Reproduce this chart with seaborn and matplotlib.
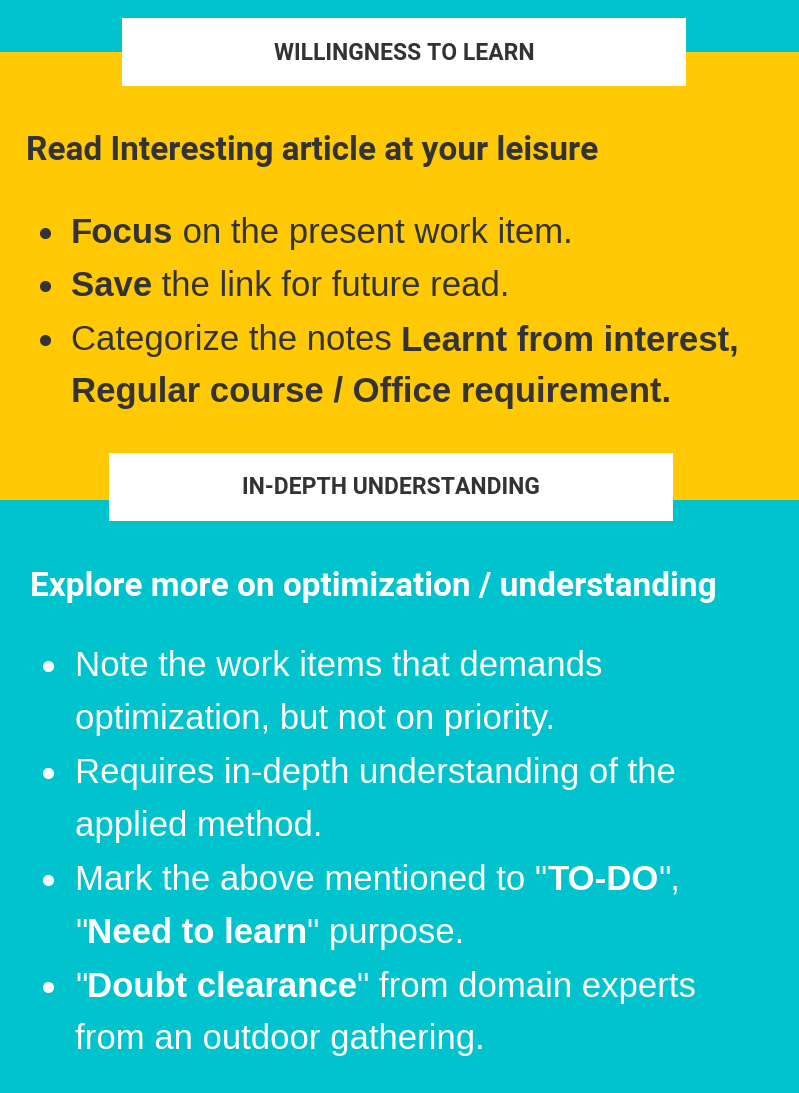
import matplotlib
matplotlib.use("Agg")
import matplotlib.pyplot as plt
import seaborn as sns

sns.set_theme(style="white")
plt.rcParams['font.family'] = ['Liberation Sans', 'DejaVu Sans']

TEAL = "#00C3CD"
YELLOW = "#FFCA05"
DARK = "#333333"

# section texts
box_titles = ["WILLINGNESS TO LEARN", "IN-DEPTH UNDERSTANDING"]
headings = ["Read Interesting article at your leisure",
            "Explore more on optimization / understanding"]
# each line: (bullet?, [(text, bold), ...])
top_lines = [
    (True, [("Focus", True), (" on the present work item.", False)]),
    (True, [("Save", True), (" the link for future read.", False)]),
    (True, [("Categorize the notes ", False), ("Learnt from interest,", True)]),
    (False, [("Regular course / Office requirement.", True)]),
]
bottom_lines = [
    (True, [("Note the work items that demands", False)]),
    (False, [("optimization, but not on priority.", False)]),
    (True, [("Requires in-depth understanding of the", False)]),
    (False, [("applied method.", False)]),
    (True, [("Mark the above mentioned to \"", False), ("TO-DO", True), ("\",", False)]),
    (False, [("\"", False), ("Need to learn", True), ("\" purpose.", False)]),
    (True, [("\"", False), ("Doubt clearance", True), ("\" from domain experts", False)]),
    (False, [("from an outdoor gathering.", False)]),
]

fig = plt.figure(figsize=(7.99, 10.93), dpi=100)
ax = fig.add_axes([0, 0, 1, 1])
ax.set_xlim(0, 799)
ax.set_ylim(1093, 0)
ax.axis("off")
renderer = fig.canvas.get_renderer()

# backgrounds
ax.add_patch(plt.Rectangle((0, 0), 799, 52, color=TEAL, lw=0))
ax.add_patch(plt.Rectangle((0, 52), 799, 448, color=YELLOW, lw=0))
ax.add_patch(plt.Rectangle((0, 500), 799, 593, color=TEAL, lw=0))
ax.add_patch(plt.Rectangle((122, 18), 564, 68, color="white", lw=0))
ax.add_patch(plt.Rectangle((109, 453), 564, 68, color="white", lw=0))

ax.text(404, 53, box_titles[0], ha="center", va="center", fontsize=16.5,
        fontweight="bold", family="Roboto", color=DARK)
ax.text(391, 488, box_titles[1], ha="center", va="center", fontsize=16.5,
        fontweight="bold", family="Roboto", color=DARK)

ax.text(26, 160, headings[0], fontsize=24, fontweight="bold", family="Roboto",
        color=DARK, va="baseline")
ax.text(30, 596, headings[1], fontsize=24, fontweight="bold", family="Roboto",
        color="white", va="baseline")


def draw_runs(x, y, runs, color):
    for txt, bold in runs:
        t = ax.text(x, y, txt.replace(" ", "\u00a0"), fontsize=25, color=color,
                    fontweight="bold" if bold else "normal", va="baseline")
        x += t.get_window_extent(renderer).width


def draw_list(lines, bx, tx, ys, color):
    for (bullet, runs), y in zip(lines, ys):
        if bullet:
            ax.plot(bx, y - 10, "o", ms=7, color=color)
        draw_runs(tx, y, runs, color)


draw_list(top_lines, 45, 71, [243, 296, 350, 402], DARK)
draw_list(bottom_lines, 48, 75, [676, 729, 783, 836, 890, 943, 997, 1049], "white")

fig.savefig("out.png", dpi=100)
